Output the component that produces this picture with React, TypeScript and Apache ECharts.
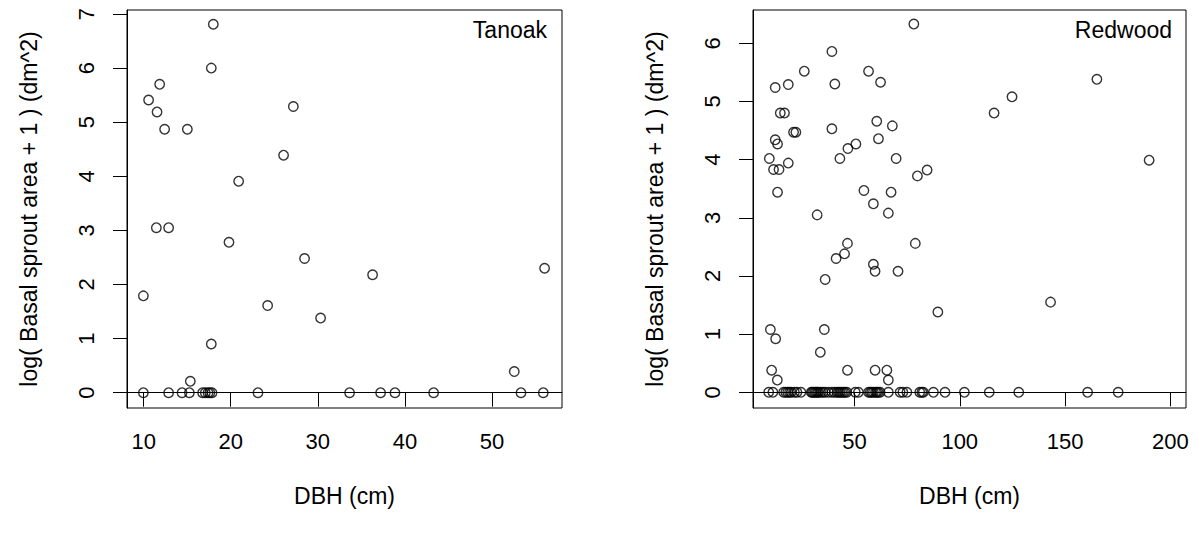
import React, { useEffect, useRef } from "react";
import * as echarts from "echarts";

// Tanoak panel (left)
const tanoakDBH = [
  18.0, 17.77, 11.84, 10.57, 11.54, 12.41, 15.02, 27.19, 26.07, 20.91,
  11.46, 12.87, 19.8, 28.48, 36.29, 56.04, 9.97, 24.24, 30.32, 17.77,
  52.56, 15.36,
  9.97, 12.87, 14.41, 15.25, 16.77, 17.08, 17.39, 17.6, 17.85, 23.13,
  33.65, 37.21, 38.86, 43.3, 53.33, 55.89,
];
const tanoakSprout = [
  6.81, 6.0, 5.7, 5.41, 5.19, 4.87, 4.87, 5.29, 4.39, 3.91,
  3.05, 3.05, 2.78, 2.48, 2.18, 2.3, 1.79, 1.61, 1.38, 0.9,
  0.39, 0.21,
  0, 0, 0, 0, 0, 0, 0, 0, 0, 0,
  0, 0, 0, 0, 0, 0,
];

// Redwood panel (right)
const redwoodDBH = [
  78.2, 39.3, 26.2, 56.7, 62.4, 40.7, 18.6, 12.4, 165.1, 124.8,
  116.3, 14.8, 16.8, 60.6, 68.0, 39.3, 21.1, 22.2, 12.4, 13.5,
  61.4, 50.7, 46.9, 43.1, 69.8, 9.6, 18.6, 11.6, 14.2, 79.9,
  84.5, 189.9, 13.5, 54.5, 67.4, 59.0, 66.1, 32.3, 46.7, 78.9,
  45.3, 41.3, 59.0, 59.8, 70.7, 36.1, 143.1, 89.6, 10.1, 35.7,
  12.6, 33.8, 10.7, 46.7, 59.8, 65.4, 13.4, 66.1,
  9.3, 11.3, 16.4, 18.3, 20.0, 22.7, 24.6, 29.5, 30.6, 31.9,
  33.0, 36.1, 37.7, 39.3, 41.7, 43.2, 44.8, 46.4, 50.4, 51.9,
  56.7, 59.0, 60.6, 62.2, 66.1, 71.7, 74.9, 82.0, 82.7, 87.5,
  93.0, 102.2, 114.0, 128.0, 160.7, 175.2,
  17.4, 19.2, 21.5, 30.0, 31.3, 32.5, 34.0, 35.0, 40.5, 42.5,
  44.0, 45.5, 57.5, 58.2, 60.0, 61.3, 73.0, 81.0,
];
const redwoodSprout = [
  6.33, 5.86, 5.52, 5.52, 5.33, 5.3, 5.29, 5.24, 5.38, 5.08,
  4.8, 4.8, 4.8, 4.66, 4.58, 4.53, 4.47, 4.47, 4.34, 4.27,
  4.36, 4.27, 4.19, 4.02, 4.02, 4.02, 3.94, 3.83, 3.83, 3.72,
  3.82, 3.99, 3.44, 3.47, 3.44, 3.24, 3.08, 3.05, 2.56, 2.56,
  2.38, 2.3, 2.2, 2.08, 2.08, 1.94, 1.55, 1.38, 1.08, 1.08,
  0.92, 0.69, 0.38, 0.38, 0.38, 0.38, 0.21, 0.21,
  0, 0, 0, 0, 0, 0, 0, 0, 0, 0,
  0, 0, 0, 0, 0, 0, 0, 0, 0, 0,
  0, 0, 0, 0, 0, 0, 0, 0, 0, 0,
  0, 0, 0, 0, 0, 0,
  0, 0, 0, 0, 0, 0, 0, 0, 0, 0,
  0, 0, 0, 0, 0, 0, 0, 0,
];

const tanoakXTicks = [10, 20, 30, 40, 50];
const tanoakYTicks = [0, 1, 2, 3, 4, 5, 6, 7];
const redwoodXTicks = [50, 100, 150, 200];
const redwoodYTicks = [0, 1, 2, 3, 4, 5, 6];

const xTitle = "DBH (cm)";
const yTitle = "log( Basal sprout area + 1 ) (dm^2)";
const panelNames = ["Tanoak", "Redwood"];

const FONT = "'Liberation Sans', Arial, sans-serif";

function xAxisCfg(gridIndex: number, min: number, max: number, ticks: number[]) {
  return {
    type: "value",
    gridIndex,
    min,
    max,
    name: xTitle,
    nameLocation: "middle",
    nameGap: 76,
    nameTextStyle: { fontSize: 23, color: "#000", fontFamily: FONT },
    axisLine: { show: true, lineStyle: { color: "#000", width: 1 } },
    axisTick: { show: true, length: 14, customValues: ticks, lineStyle: { color: "#000", width: 1 } },
    axisLabel: { customValues: ticks, margin: 22, fontSize: 22, color: "#000", fontFamily: FONT },
    splitLine: { show: false },
  };
}

function yAxisCfg(gridIndex: number, min: number, max: number, ticks: number[]) {
  return {
    type: "value",
    gridIndex,
    min,
    max,
    name: yTitle,
    nameLocation: "middle",
    nameRotate: 90,
    nameGap: 87,
    nameTextStyle: { fontSize: 23, color: "#000", fontFamily: FONT },
    axisLine: { show: true, lineStyle: { color: "#000", width: 1 } },
    axisTick: { show: true, length: 14, customValues: ticks, lineStyle: { color: "#000", width: 1 } },
    axisLabel: { customValues: ticks, rotate: 90, margin: 30, fontSize: 22, color: "#000", fontFamily: FONT },
    splitLine: { show: false },
  };
}

function pairs(xs: number[], ys: number[]) {
  return xs.map((x, i) => [x, ys[i]]);
}

export default function App() {
  const ref = useRef<HTMLDivElement>(null);
  useEffect(() => {
    document.body.style.margin = "0";
    const chart = echarts.init(ref.current!, null, { renderer: "svg" });
    const circle = {
      type: "scatter",
      symbol: "circle",
      symbolSize: 9.5,
      itemStyle: { color: "rgba(0,0,0,0)", borderColor: "#000", borderWidth: 1.4 },
      emphasis: { disabled: true },
    };
    chart.setOption({
      animation: false,
      backgroundColor: "#fff",
      textStyle: { fontFamily: FONT },
      grid: [
        { left: 127, right: 636, top: 10, bottom: 131, show: true, borderColor: "#000", borderWidth: 1, backgroundColor: "transparent" },
        { left: 753, right: 12, top: 10, bottom: 131, show: true, borderColor: "#000", borderWidth: 1, backgroundColor: "transparent" },
      ],
      xAxis: [
        xAxisCfg(0, 8.09, 58.04, tanoakXTicks),
        xAxisCfg(1, 1.85, 207.4, redwoodXTicks),
      ],
      yAxis: [
        yAxisCfg(0, -0.283, 7.074, tanoakYTicks),
        yAxisCfg(1, -0.27, 6.572, redwoodYTicks),
      ],
      series: [
        { ...circle, xAxisIndex: 0, yAxisIndex: 0, data: pairs(tanoakDBH, tanoakSprout) },
        { ...circle, xAxisIndex: 1, yAxisIndex: 1, data: pairs(redwoodDBH, redwoodSprout) },
      ],
      graphic: [
        { type: "text", right: 1198 - 547, top: 18, style: { text: panelNames[0], fontSize: 23, fill: "#000", fontFamily: FONT } },
        { type: "text", right: 1198 - 1172, top: 18, style: { text: panelNames[1], fontSize: 23, fill: "#000", fontFamily: FONT } },
      ],
    });
    return () => chart.dispose();
  }, []);
  return <div ref={ref} style={{ width: 1198, height: 539, position: "absolute", left: 0, top: 0 }} />;
}
